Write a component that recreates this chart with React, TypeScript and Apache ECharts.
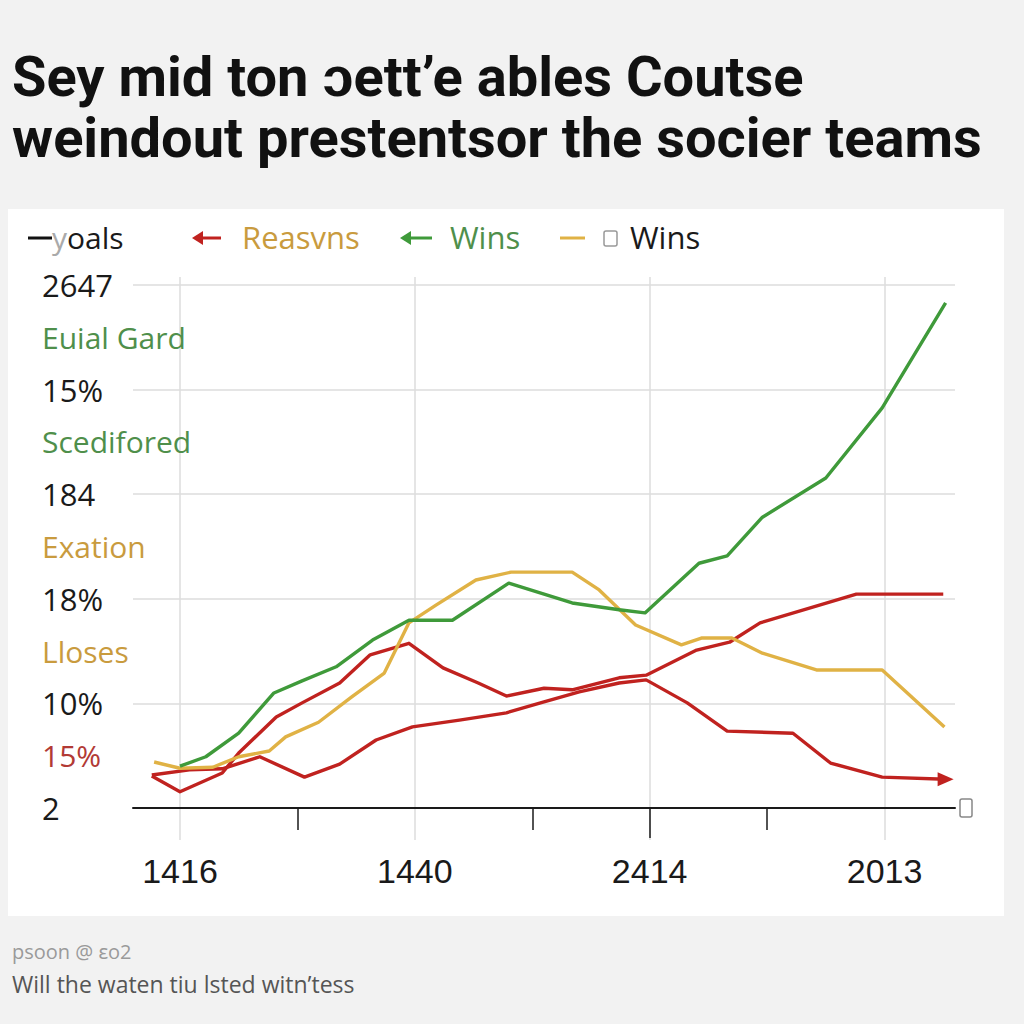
import React, { useEffect, useRef } from 'react';
import * as echarts from 'echarts';

// ---------- texts ----------
const titleLines = ['Sey mid ton ɔett’e ables Coutse', 'weindout prestentsor the socier teams'];
const legendLabels = ['oals', 'Reasvns', 'Wins', 'Wins'];
const footnoteSmall = 'psoon @ ɛo2';
const footnote = 'Will the waten tiu lsted witn’tess';

// ---------- axes ----------
const yMajorValues = [0, 20, 40, 60, 80, 100];
const yMajorLabels = ['2', '10%', '18%', '184', '15%', '2647'];
const yMidValues = [10, 30, 50, 70, 90];
const yMidLabels = ['15%', 'Lloses', 'Exation', 'Scedifored', 'Euial Gard'];
const yMidColors = ['#b23a35', '#c99b3e', '#c99b3e', '#4f8f4b', '#4f8f4b'];

const xSlots = ['-2', '-1', '0', '1', '2', '3', '4', '5', '6', '7', '8', '9', '10', '11', '12', '13', '14', '15', '16', '17', '18', '19', '20', '21', '22', '23', '24', '25', '26', '27', '28', '29', '30', '31', '32', '33'];
const xMajorValues = ['0', '10', '20', '30'];
const xMajorLabels = ['1416', '1440', '2414', '2013'];
const xMinorTicks = ['5', '15', '25'];
const xLongTick = '20';

// ---------- series ----------
const greenWins = [
  [0, 8.0], [1.1, 9.8], [2.5, 14.3], [4.0, 22.0], [5.2, 24.3], [6.65, 27.0], [8.2, 32.1], [9.75, 35.9],
  [11.6, 35.9], [14.0, 43.0], [16.7, 39.2], [18.7, 37.9], [19.8, 37.3], [22.1, 46.8], [23.3, 48.2],
  [24.8, 55.6], [27.5, 63.1], [29.9, 76.5], [32.6, 96.6],
];
const goldWins = [
  [-1.1, 8.8], [0, 7.6], [1.4, 7.8], [2.5, 9.8], [3.8, 10.9], [4.5, 13.6], [5.9, 16.4], [7.3, 21.2],
  [8.7, 25.8], [9.75, 35.4], [10.9, 38.8], [12.6, 43.6], [14.1, 45.1], [16.7, 45.1], [17.85, 41.7],
  [19.4, 35.0], [21.35, 31.2], [22.2, 32.5], [23.5, 32.5], [24.8, 29.6], [27.1, 26.4], [29.9, 26.4], [32.55, 15.5],
];
const redReasons = [
  [-1.2, 6.1], [0, 3.1], [1.8, 6.7], [2.5, 10.5], [4.1, 17.4], [5.2, 20.1], [6.8, 23.9], [8.1, 29.3],
  [9.75, 31.5], [11.2, 26.8], [12.7, 23.9], [13.9, 21.4], [15.5, 22.9], [16.7, 22.6], [18.7, 24.9],
  [19.85, 25.4], [22.0, 30.2], [23.4, 31.7], [24.7, 35.4], [28.8, 40.9], [32.5, 40.9],
];
const redGoals = [
  [-1.2, 6.3], [0.4, 7.3], [1.8, 7.5], [3.4, 9.8], [5.3, 5.9], [6.8, 8.4], [8.35, 13.0], [9.9, 15.5],
  [11.9, 16.8], [13.9, 18.2], [15.5, 20.3], [17.0, 22.2], [18.7, 23.9], [19.85, 24.5], [21.6, 20.1],
  [23.3, 14.7], [26.1, 14.3], [27.7, 8.6], [29.9, 5.9], [32.6, 5.5],
];

const GREEN = '#3f9a3a';
const GOLD = '#e0b245';
const RED = '#c0221f';
const GRID = '#dcdcdc';
const INK = '#1a1a1a';
const SANS = '"Open Sans", "Noto Sans", sans-serif';

export default function App() {
  const ref = useRef<HTMLDivElement>(null);

  useEffect(() => {
    if (!ref.current) return;
    const chart = echarts.init(ref.current, null, { renderer: 'svg' });

    const majorMap: Record<string, string> = {};
    yMajorValues.forEach((v, i) => (majorMap[String(v)] = yMajorLabels[i]));
    const midMap: Record<string, string> = {};
    const midColor: Record<string, string> = {};
    yMidValues.forEach((v, i) => {
      midMap[String(v)] = yMidLabels[i];
      midColor[String(v)] = yMidColors[i];
    });
    const xLabelMap: Record<string, string> = {};
    xMajorValues.forEach((v, i) => (xLabelMap[v] = xMajorLabels[i]));

    const redGoalsData = redGoals.map((p, i) =>
      i === redGoals.length - 1
        ? { value: p, symbol: 'triangle', symbolSize: [14, 16], symbolRotate: -90, itemStyle: { color: RED } }
        : { value: p }
    );

    const lineSeries = (name: string, data: any[], color: string) => ({
      name,
      type: 'line',
      xAxisIndex: 0,
      yAxisIndex: 0,
      data,
      symbol: 'none',
      showSymbol: true,
      lineStyle: { color, width: 3.4, join: 'round' },
      itemStyle: { color },
      z: 3,
    });

    const option: any = {
      animation: false,
      backgroundColor: '#f2f2f2',
      grid: [
        { left: 133, right: 69, top: 285, bottom: 216 },
        { left: 133, right: 69, top: 277, bottom: 184 },
      ],
      xAxis: [
        {
          type: 'value', gridIndex: 0, position: 'bottom', min: -2, max: 33,
          axisLine: { show: true, onZero: false, lineStyle: { color: INK, width: 2 } },
          axisTick: { show: false }, axisLabel: { show: false }, splitLine: { show: false },
        },
        {
          type: 'category', gridIndex: 0, position: 'bottom', data: xSlots, boundaryGap: false,
          axisLine: { show: false, onZero: false },
          axisTick: {
            show: true, length: 22, lineStyle: { color: INK, width: 1.5 },
            interval: (_i: number, v: string) => xMinorTicks.includes(v),
          },
          axisLabel: {
            interval: (_i: number, v: string) => xMajorValues.includes(v),
            formatter: (v: string) => xLabelMap[v] ?? '',
            margin: 46, fontFamily: '"Liberation Sans Narrow", sans-serif', fontSize: 34, color: INK,
          },
          splitLine: { show: false },
        },
        {
          type: 'category', gridIndex: 0, position: 'bottom', data: xSlots, boundaryGap: false,
          axisLine: { show: false, onZero: false },
          axisTick: {
            show: true, length: 30, lineStyle: { color: INK, width: 1.5 },
            interval: (_i: number, v: string) => v === xLongTick,
          },
          axisLabel: { show: false }, splitLine: { show: false },
        },
        {
          type: 'category', gridIndex: 1, position: 'bottom', data: xSlots, boundaryGap: false,
          axisLine: { show: false }, axisTick: { show: false }, axisLabel: { show: false },
          splitLine: {
            show: true, lineStyle: { color: GRID, width: 1.5 },
            interval: (_i: number, v: string) => xMajorValues.includes(v),
          },
        },
      ],
      yAxis: [
        {
          type: 'value', gridIndex: 0, position: 'left', min: 0, max: 100, interval: 20,
          axisLine: { show: false }, axisTick: { show: false },
          axisLabel: {
            align: 'left', margin: 91, color: INK, fontSize: 31, fontFamily: SANS,
            formatter: (v: number) => majorMap[String(v)] ?? '',
          },
          splitLine: { show: true, lineStyle: { color: GRID, width: 1.5 } },
        },
        {
          type: 'value', gridIndex: 0, position: 'left', offset: 0, min: 0, max: 100, interval: 10,
          axisLine: { show: false }, axisTick: { show: false }, splitLine: { show: false },
          axisLabel: {
            align: 'left', margin: 91, fontSize: 30, fontFamily: SANS,
            formatter: (v: number) => midMap[String(v)] ?? '',
            color: (v: any) => midColor[String(v)] ?? INK,
          },
        },
        { type: 'value', gridIndex: 1, min: 0, max: 1, show: false },
      ],
      graphic: [
        { type: 'rect', z: -10, shape: { x: 8, y: 209, width: 996, height: 707 }, style: { fill: '#ffffff' } },
        { type: 'text', x: 12, y: 77, style: { text: titleLines[0], fontSize: 56, fontWeight: 'bold', fontFamily: 'Roboto, sans-serif', fill: '#111', verticalAlign: 'middle' } },
        { type: 'text', x: 12, y: 138, style: { text: titleLines[1], fontSize: 56, fontWeight: 'bold', fontFamily: 'Roboto, sans-serif', fill: '#111', verticalAlign: 'middle' } },
        // legend
        { type: 'line', shape: { x1: 28, y1: 238, x2: 52, y2: 238 }, style: { stroke: '#111', lineWidth: 3 } },
        { type: 'text', x: 52, y: 237, style: { text: '{g|y}{b|' + legendLabels[0] + '}', verticalAlign: 'middle', rich: { g: { fill: '#aaa', fontSize: 30, fontFamily: SANS }, b: { fill: INK, fontSize: 30, fontFamily: SANS } } } },
        { type: 'line', shape: { x1: 200, y1: 238, x2: 221, y2: 238 }, style: { stroke: RED, lineWidth: 3 } },
        { type: 'polygon', shape: { points: [[192, 238], [203, 231], [203, 245]] }, style: { fill: RED } },
        { type: 'text', x: 242, y: 237, style: { text: legendLabels[1], fill: '#c99b3e', fontSize: 31, fontFamily: SANS, verticalAlign: 'middle' } },
        { type: 'line', shape: { x1: 408, y1: 238, x2: 432, y2: 238 }, style: { stroke: GREEN, lineWidth: 3 } },
        { type: 'polygon', shape: { points: [[400, 238], [411, 231], [411, 245]] }, style: { fill: GREEN } },
        { type: 'text', x: 450, y: 237, style: { text: legendLabels[2], fill: '#4f8f4b', fontSize: 31, fontFamily: SANS, verticalAlign: 'middle' } },
        { type: 'line', shape: { x1: 560, y1: 238, x2: 585, y2: 238 }, style: { stroke: GOLD, lineWidth: 3 } },
        { type: 'rect', shape: { x: 604, y: 231, width: 13, height: 15, r: 2 }, style: { fill: 'none', stroke: '#999', lineWidth: 1.5 } },
        { type: 'text', x: 630, y: 237, style: { text: legendLabels[3], fill: INK, fontSize: 31, fontFamily: SANS, verticalAlign: 'middle' } },
        // small icon at axis end
        { type: 'rect', shape: { x: 960, y: 799, width: 12, height: 18, r: 2 }, style: { fill: 'none', stroke: '#888', lineWidth: 1.5 } },
        // footnotes
        { type: 'text', x: 12, y: 951, style: { text: footnoteSmall, fill: '#9a9a9a', fontSize: 20, fontFamily: SANS, verticalAlign: 'middle' } },
        { type: 'text', x: 12, y: 984, style: { text: footnote, fill: '#555', fontSize: 23, fontFamily: SANS, verticalAlign: 'middle' } },
      ],
      series: [
        lineSeries('Goals', redGoalsData, RED),
        lineSeries('Reasvns', redReasons, RED),
        lineSeries('Wins', goldWins, GOLD),
        lineSeries('Wins ', greenWins, GREEN),
      ],
    };

    chart.setOption(option);
    return () => chart.dispose();
  }, []);

  return <div ref={ref} style={{ position: 'absolute', left: 0, top: 0, width: 1024, height: 1024 }} />;
}
